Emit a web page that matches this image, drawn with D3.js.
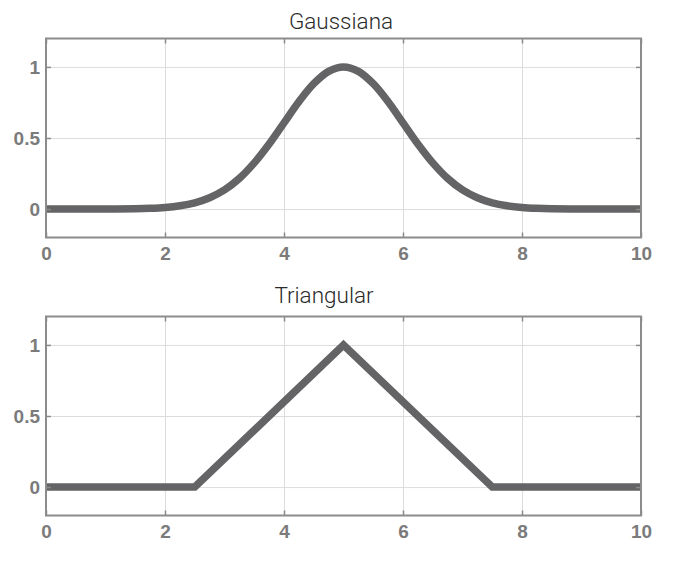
<!DOCTYPE html>
<html>
<head>
<meta charset="utf-8">
<script src="https://cdn.jsdelivr.net/npm/d3@7"></script>
<style>
  body { margin: 0; background: #fff; }
  .tick text { font-family: "Liberation Sans", Arial, sans-serif; font-weight: bold; font-size: 19px; fill: #7b7b7b; }
  .title { font-family: Roboto, "Noto Sans", sans-serif; font-weight: 300; font-size: 22.5px; fill: #2a2a2a; }
</style>
</head>
<body>
<svg id="chart" width="692" height="568"></svg>
<script>
// x ticks and y ticks
const xTicks = [0, 2, 4, 6, 8, 10];
const yTicks = [0, 0.5, 1];
const yTickLabels = ["0", "0.5", "1"];

// gaussian curve
const gaussX = [0, 0.5, 1, 1.5, 1.75, 2, 2.25, 2.5, 2.75, 3, 3.25, 3.5, 3.75, 4, 4.25, 4.5, 4.75, 5,
    5.25, 5.5, 5.75, 6, 6.25, 6.5, 6.75, 7, 7.25, 7.5, 7.75, 8, 8.25, 8.5, 9, 9.5, 10];
const gaussY = [0, 0, 0, 0.002, 0.005, 0.011, 0.023, 0.044, 0.080, 0.135, 0.216, 0.325, 0.458, 0.607, 0.755, 0.882, 0.969, 1,
    0.969, 0.882, 0.755, 0.607, 0.458, 0.325, 0.216, 0.135, 0.080, 0.044, 0.023, 0.011, 0.005, 0.002, 0, 0, 0];

// triangular curve
const triX = [0, 2.5, 5, 7.5, 10];
const triY = [0, 0, 1, 0, 0];

const panels = [
    { title: "Gaussiana", titleX: 341, titleY: 29, top: 38.5, xs: gaussX, ys: gaussY, curve: d3.curveCatmullRom },
    { title: "Triangular", titleX: 324, titleY: 303, top: 316.5, xs: triX, ys: triY, curve: d3.curveLinear }
];

const left = 46;
const right = 641;
const plotH = 199;

const svg = d3.select("#chart");

const xScale = d3.scaleLinear()
    .domain([0, 10])
    .range([left, right]);

panels.forEach(function (p, i) {
    const yScale = d3.scaleLinear()
        .domain([-0.2, 1.2])
        .range([p.top + plotH, p.top]);

    const g = svg.append("g");

    // gridlines
    g.append("g")
        .attr("transform", `translate(0, ${p.top + plotH})`)
        .call(d3.axisBottom(xScale).tickValues(xTicks.slice(1, -1)).tickSize(-plotH).tickFormat(""))
        .call(a => a.select(".domain").remove())
        .selectAll("line").attr("stroke", "#dcdcdc").attr("stroke-width", 1);
    g.append("g")
        .attr("transform", `translate(${left}, 0)`)
        .call(d3.axisLeft(yScale).tickValues(yTicks).tickSize(-(right - left)).tickFormat(""))
        .call(a => a.select(".domain").remove())
        .selectAll("line").attr("stroke", "#dcdcdc").attr("stroke-width", 1);

    // the curve
    const clipId = "clip" + i;
    g.append("clipPath").attr("id", clipId)
        .append("rect")
        .attr("x", left).attr("y", p.top)
        .attr("width", right - left).attr("height", plotH);

    const line = d3.line()
        .x(function (d, j) { return xScale(p.xs[j]); })
        .y(function (d, j) { return yScale(p.ys[j]); })
        .curve(p.curve);

    g.append("path")
        .datum(p.ys)
        .attr("clip-path", `url(#${clipId})`)
        .attr("d", line)
        .attr("fill", "none")
        .attr("stroke", "#646466")
        .attr("stroke-width", 7.5)
        .attr("stroke-linejoin", "miter");

    // axes with inward ticks
    const xAxis = g.append("g")
        .attr("transform", `translate(0, ${p.top + plotH})`)
        .call(d3.axisBottom(xScale).tickValues(xTicks).tickSizeInner(-5).tickSizeOuter(0).tickPadding(12).tickFormat(d3.format("d")));
    g.append("g")
        .attr("transform", `translate(${left}, 0)`)
        .call(d3.axisLeft(yScale).tickValues(yTicks).tickSizeInner(-5).tickSizeOuter(0).tickPadding(6)
            .tickFormat(function (d, j) { return yTickLabels[j]; }));
    g.append("g")
        .attr("transform", `translate(0, ${p.top})`)
        .call(d3.axisTop(xScale).tickValues(xTicks).tickSizeInner(-5).tickSizeOuter(0).tickFormat(""));
    g.append("g")
        .attr("transform", `translate(${right}, 0)`)
        .call(d3.axisRight(yScale).tickValues(yTicks).tickSizeInner(-5).tickSizeOuter(0).tickFormat(""));

    g.selectAll(".domain").attr("stroke", "none");
    g.selectAll(".tick line").filter(function () { return d3.select(this).attr("stroke") !== "#dcdcdc"; })
        .attr("stroke", "#8a8a8a").attr("stroke-width", 1.5);
    xAxis.selectAll("text").attr("dy", "0.55em");

    // frame
    g.append("rect")
        .attr("x", left).attr("y", p.top)
        .attr("width", right - left).attr("height", plotH)
        .attr("fill", "none")
        .attr("stroke", "#8c8c8c")
        .attr("stroke-width", 2);

    // title
    g.append("text")
        .attr("class", "title")
        .attr("x", p.titleX).attr("y", p.titleY)
        .attr("text-anchor", "middle")
        .text(p.title);
});
</script>
</body>
</html>
